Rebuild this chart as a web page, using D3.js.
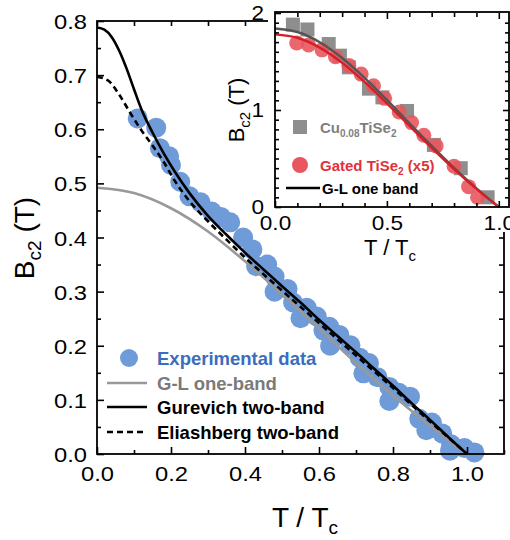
<!DOCTYPE html>
<html><head><meta charset="utf-8">
<script src="https://cdn.jsdelivr.net/npm/d3@7"></script>
<style>
body{margin:0;background:#fff}
svg{display:block}
text{font-family:"Liberation Sans",Arial,Helvetica,sans-serif}
</style>
</head><body>
<svg id="chart" width="510" height="540"></svg>
<script>
// Upper critical field vs reduced temperature (main panel)
const expT = [0.11,0.16,0.17,0.195,0.20,0.225,0.25,0.28,0.31,0.335,0.36,0.395,0.42,0.43,0.46,0.48,0.48,0.515,0.53,0.55,0.567,0.594,0.612,0.628,0.63,0.655,0.685,0.71,0.72,0.735,0.758,0.79,0.79,0.816,0.846,0.871,0.89,0.905,0.933,0.957,0.954,0.993,1.02];
const expB = [0.620,0.603,0.565,0.550,0.534,0.503,0.476,0.465,0.448,0.438,0.428,0.400,0.378,0.347,0.350,0.328,0.300,0.305,0.280,0.251,0.270,0.254,0.228,0.235,0.200,0.220,0.201,0.178,0.149,0.168,0.142,0.124,0.098,0.113,0.106,0.065,0.044,0.058,0.038,0.018,0.006,0.011,0.003];

const glT = [0,0.1,0.2,0.3,0.4,0.5,0.6,0.7,0.8,0.9,0.99];
const glB = [0.492,0.482,0.454,0.411,0.356,0.295,0.232,0.168,0.108,0.052,0.004];

const gurT = [0,0.02,0.04,0.06,0.08,0.10,0.12,0.15,0.18,0.21,0.25,0.30,0.35,0.40,0.45,0.50,0.55,0.60,0.65,0.70,0.75,0.80,0.85,0.90,0.95,1.00];
const gurB = [0.788,0.784,0.770,0.745,0.712,0.674,0.637,0.594,0.556,0.522,0.482,0.440,0.405,0.372,0.341,0.310,0.280,0.248,0.218,0.188,0.157,0.126,0.094,0.063,0.031,0.0];

const eliT = [0,0.03,0.06,0.09,0.12,0.15,0.18,0.21,0.25,0.30,0.35,0.40,0.45,0.50,0.55,0.60,0.65,0.70,0.75,0.80,0.85,0.90,0.95,1.00];
const eliB = [0.697,0.690,0.664,0.630,0.598,0.570,0.540,0.505,0.467,0.430,0.396,0.363,0.332,0.302,0.272,0.242,0.212,0.182,0.152,0.122,0.091,0.060,0.030,0.0];

// Inset: Cu-intercalated and gated TiSe2
const cuT = [0.08,0.145,0.24,0.29,0.33,0.42,0.48,0.59,0.71,0.83,0.95];
const cuB = [1.88,1.83,1.68,1.56,1.44,1.22,1.13,0.99,0.64,0.40,0.10];
const gateT = [0.097,0.15,0.21,0.27,0.33,0.385,0.44,0.49,0.555,0.61,0.665,0.72,0.80,0.865,0.905];
const gateB = [1.69,1.67,1.62,1.55,1.46,1.37,1.25,1.12,0.98,0.87,0.74,0.63,0.42,0.21,0.10];
const fitT = [0,0.1,0.2,0.3,0.4,0.5,0.6,0.7,0.8,0.9,1.0];
const fitCuB = [1.84,1.804,1.699,1.536,1.332,1.104,0.866,0.630,0.404,0.193,0];
const fitGateB = [1.78,1.745,1.643,1.486,1.289,1.068,0.838,0.609,0.391,0.187,0];

const mainXTicks = [0,0.2,0.4,0.6,0.8,1.0];
const mainYTicks = [0,0.1,0.2,0.3,0.4,0.5,0.6,0.7,0.8];
const insetXTicks = [0,0.5,1.0];
const insetYTicks = [0,1,2];

const legendMain = ["Experimental data","G-L one-band","Gurevich two-band","Eliashberg two-band"];

const BLUE = "#6f9bd8", BLUE_TXT = "#3a6dbd", GRAY = "#999999", GRAY_TXT = "#7a7a7a";
const SQ = "#8e8e8e", RED_PT = "#e8565e", RED_LN = "#d41f28", DARK = "#555555";
const STRETCH = 1.13;

const svg = d3.select("#chart");

const x = d3.scaleLinear().domain([0,1.1]).range([97,504]);
const y = d3.scaleLinear().domain([0,0.8]).range([454,21]);

const zip = (a,b) => a.map((v,i)=>[v,b[i]]);

function axisGroup(sel, axis, cls){
  const g = sel.append("g").attr("class",cls).call(axis);
  g.select(".domain").remove();
  g.selectAll(".tick line").attr("stroke","#000").attr("stroke-width",1.6);
  return g;
}

function styleLabels(g, size, anchor, pad){
  g.selectAll(".tick text")
    .attr("font-size",size).attr("fill","#000")
    .attr("transform",`scale(${STRETCH},1)`);
  if(anchor==="end") g.selectAll(".tick text").attr("x",-pad/STRETCH);
}

// ---------- main panel ----------
const main = svg.append("g");

// data points
main.append("g").selectAll("circle").data(zip(expT,expB)).join("circle")
  .attr("cx",d=>x(d[0])).attr("cy",d=>y(d[1])).attr("r",10).attr("fill",BLUE);

const line = d3.line().x(d=>x(d[0])).y(d=>y(d[1])).curve(d3.curveMonotoneX);
main.append("path").attr("d",line(zip(glT,glB))).attr("fill","none").attr("stroke",GRAY).attr("stroke-width",2.6);
main.append("path").attr("d",line(zip(eliT,eliB))).attr("fill","none").attr("stroke","#000").attr("stroke-width",2.6).attr("stroke-dasharray","6,4");
main.append("path").attr("d",line(zip(gurT,gurB))).attr("fill","none").attr("stroke","#000").attr("stroke-width",2.6);

// axes, ticks inward on all four sides
const bx = axisGroup(main.append("g").attr("transform",`translate(0,${y(0)})`),
  d3.axisBottom(x).tickValues(mainXTicks).tickSize(-7).tickPadding(12).tickFormat(d3.format(".1f")),"bx");
styleLabels(bx,21);
axisGroup(main.append("g").attr("transform",`translate(0,${y(0)})`),
  d3.axisBottom(x).tickValues([0.1,0.3,0.5,0.7,0.9,1.1]).tickSize(-4).tickFormat(""),"bxm");
axisGroup(main.append("g").attr("transform",`translate(0,${y(0.8)})`),
  d3.axisTop(x).tickValues(d3.range(0,11).map(i=>i/10)).tickSize(-5).tickFormat(""),"tx");
const ly = axisGroup(main.append("g").attr("transform",`translate(${x(0)},0)`),
  d3.axisLeft(y).tickValues(mainYTicks).tickSize(-7).tickPadding(0).tickFormat(d3.format(".1f")),"ly");
styleLabels(ly,21,"end",10);
ly.selectAll(".tick text").attr("dy","0.36em");
axisGroup(main.append("g").attr("transform",`translate(${x(0)},0)`),
  d3.axisLeft(y).tickValues(d3.range(0,8).map(i=>i/10+0.05)).tickSize(-4).tickFormat(""),"lym");
axisGroup(main.append("g").attr("transform",`translate(${x(1.1)},0)`),
  d3.axisRight(y).tickValues(d3.range(1,16).map(i=>i*0.05)).tickSize(-5).tickFormat(""),"ry");
main.append("rect").attr("x",x(0)).attr("y",y(0.8)).attr("width",x(1.1)-x(0)).attr("height",y(0)-y(0.8))
  .attr("fill","none").attr("stroke","#000").attr("stroke-width",1.8);

// axis titles
const yt = main.append("text").attr("transform",`translate(34,238) rotate(-90)`).attr("text-anchor","middle").attr("font-size",28);
yt.append("tspan").text("B");
yt.append("tspan").attr("font-size",19).attr("dy",7).text("c2");
yt.append("tspan").attr("dy",-7).text(" (T)");
const xt = main.append("text").attr("x",305).attr("y",527).attr("text-anchor","middle").attr("font-size",28);
xt.append("tspan").text("T / T");
xt.append("tspan").attr("font-size",19).attr("dy",7).text("c");

// legend
const lg = main.append("g").attr("font-weight","bold").attr("font-size",18.5);
lg.append("circle").attr("cx",129).attr("cy",358).attr("r",9).attr("fill",BLUE);
const rows = [358,383,407,432];
const legColors = [BLUE_TXT,GRAY_TXT,"#000","#000"];
lg.append("line").attr("x1",107).attr("x2",147).attr("y1",rows[1]).attr("y2",rows[1]).attr("stroke",GRAY).attr("stroke-width",2.6);
lg.append("line").attr("x1",107).attr("x2",147).attr("y1",rows[2]).attr("y2",rows[2]).attr("stroke","#000").attr("stroke-width",2.6);
lg.append("line").attr("x1",107).attr("x2",147).attr("y1",rows[3]).attr("y2",rows[3]).attr("stroke","#000").attr("stroke-width",2.6).attr("stroke-dasharray","6,4");
legendMain.forEach((t,i)=>{
  lg.append("text").attr("x",157).attr("y",rows[i]+6.5).attr("fill",legColors[i]).text(t);
});

// ---------- inset ----------
const ix = d3.scaleLinear().domain([0,1.05]).range([275,510]);
const iy = d3.scaleLinear().domain([0,2]).range([207,13]);
const ins = svg.append("g");
ins.append("rect").attr("x",268).attr("y",0).attr("width",242).attr("height",232).attr("fill","#fff");

ins.append("g").selectAll("rect").data(zip(cuT,cuB)).join("rect")
  .attr("x",d=>ix(d[0])-7).attr("y",d=>iy(d[1])-7).attr("width",14).attr("height",14).attr("fill",SQ);
ins.append("g").selectAll("circle").data(zip(gateT,gateB)).join("circle")
  .attr("cx",d=>ix(d[0])).attr("cy",d=>iy(d[1])).attr("r",7.5).attr("fill",RED_PT).attr("fill-opacity",0.9);
const iline = d3.line().x(d=>ix(d[0])).y(d=>iy(d[1])).curve(d3.curveMonotoneX);
ins.append("path").attr("d",iline(zip(fitT,fitCuB))).attr("fill","none").attr("stroke",DARK).attr("stroke-width",2.4);
ins.append("path").attr("d",iline(zip(fitT,fitGateB))).attr("fill","none").attr("stroke",RED_LN).attr("stroke-width",2.4);

const ibx = axisGroup(ins.append("g").attr("transform",`translate(0,${iy(0)})`),
  d3.axisBottom(ix).tickValues(insetXTicks).tickSize(-6).tickPadding(9).tickFormat(d3.format(".1f")),"ibx");
styleLabels(ibx,20);
axisGroup(ins.append("g").attr("transform",`translate(0,${iy(0)})`),
  d3.axisBottom(ix).tickValues([0.1,0.2,0.3,0.4,0.6,0.7,0.8,0.9]).tickSize(-4).tickFormat(""),"ibxm");
axisGroup(ins.append("g").attr("transform",`translate(0,${iy(2)})`),
  d3.axisTop(ix).tickValues([0.1,0.2,0.3,0.4,0.6,0.7,0.8,0.9]).tickSize(-4).tickFormat(""),"itxm");
axisGroup(ins.append("g").attr("transform",`translate(0,${iy(2)})`),
  d3.axisTop(ix).tickValues([0.5,1.0]).tickSize(-6).tickFormat(""),"itx");
const ily = axisGroup(ins.append("g").attr("transform",`translate(${ix(0)},0)`),
  d3.axisLeft(iy).tickValues(insetYTicks).tickSize(-6).tickPadding(0).tickFormat(d3.format("d")),"ily");
styleLabels(ily,20,"end",11);
axisGroup(ins.append("g").attr("transform",`translate(${ix(0)},0)`),
  d3.axisLeft(iy).tickValues(d3.range(1,20).filter(i=>i!==10).map(i=>i/10)).tickSize(-4).tickFormat(""),"ilym");
axisGroup(ins.append("g").attr("transform",`translate(${ix(1.05)-1},0)`),
  d3.axisRight(iy).tickValues(d3.range(1,20).filter(i=>i!==10).map(i=>i/10)).tickSize(-4).tickFormat(""),"irym");
axisGroup(ins.append("g").attr("transform",`translate(${ix(1.05)-1},0)`),
  d3.axisRight(iy).tickValues([1]).tickSize(-6).tickFormat(""),"iry");
ins.append("rect").attr("x",ix(0)).attr("y",iy(2)-1).attr("width",ix(1.05)-ix(0)-1).attr("height",iy(0)-iy(2)+1)
  .attr("fill","none").attr("stroke","#000").attr("stroke-width",1.8);

const iyt = ins.append("text").attr("transform",`translate(244,110) rotate(-90)`).attr("text-anchor","middle").attr("font-size",22);
iyt.append("tspan").text("B");
iyt.append("tspan").attr("font-size",15).attr("dy",6).text("c2");
iyt.append("tspan").attr("dy",-6).text(" (T)");
const ixt = ins.append("text").attr("x",390).attr("y",255).attr("text-anchor","middle").attr("font-size",22);
ixt.append("tspan").text("T / T");
ixt.append("tspan").attr("font-size",15).attr("dy",6).text("c");

// inset legend
const il = ins.append("g").attr("font-weight","bold").attr("font-size",15);
il.append("rect").attr("x",293).attr("y",120).attr("width",14).attr("height",14).attr("fill",SQ);
il.append("circle").attr("cx",300).attr("cy",165).attr("r",8).attr("fill",RED_PT);
il.append("line").attr("x1",286).attr("x2",320).attr("y1",188).attr("y2",188).attr("stroke","#000").attr("stroke-width",2.4);
const t1 = il.append("text").attr("x",320).attr("y",133).attr("fill","#7f7f7f");
t1.append("tspan").text("Cu");
t1.append("tspan").attr("font-size",10).attr("dy",4).text("0.08");
t1.append("tspan").attr("dy",-4).text("TiSe");
t1.append("tspan").attr("font-size",10).attr("dy",4).text("2");
const t2 = il.append("text").attr("x",320).attr("y",171).attr("fill","#e0323a");
t2.append("tspan").text("Gated TiSe");
t2.append("tspan").attr("font-size",10).attr("dy",4).text("2");
t2.append("tspan").attr("dy",-4).text(" (x5)");
il.append("text").attr("x",322).attr("y",194).attr("fill","#000").text("G-L one band");
</script>
</body></html>
